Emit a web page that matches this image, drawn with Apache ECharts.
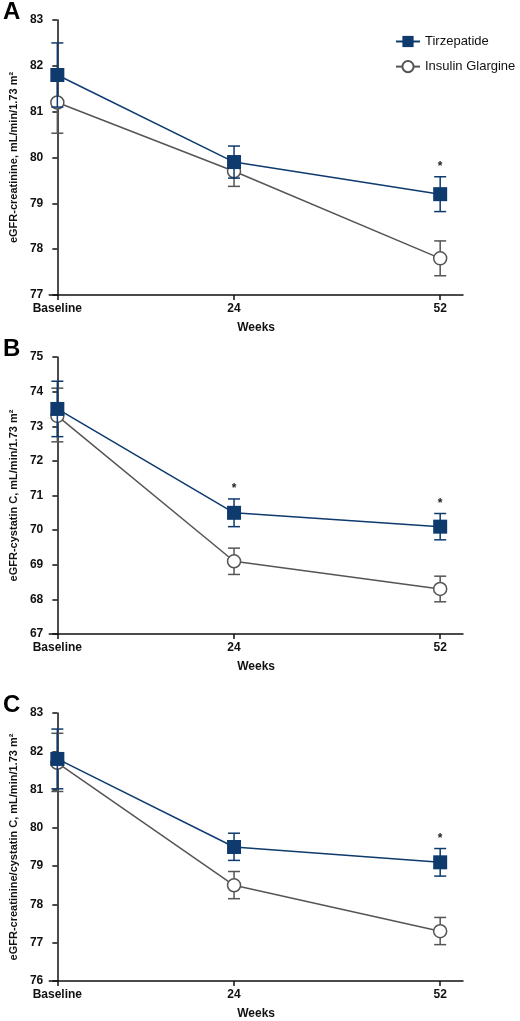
<!DOCTYPE html>
<html><head><meta charset="utf-8">
<script src="https://cdn.jsdelivr.net/npm/echarts@6/dist/echarts.min.js"></script>
<style>html,body{margin:0;padding:0;background:#fff}#c{width:520px;height:1021px}</style>
</head><body><div id="c"></div>
<script>
const weeks = [0, 24, 52];
const weekLabels = {0:'Baseline', 24:'24', 52:'52'};
// Panel A
const aTirz = [81.8, 79.9, 79.2];
const aTirzLo = [81.1, 79.55, 78.82];
const aTirzHi = [82.5, 80.25, 79.58];
const aIG = [81.2, 79.7, 77.8];
const aIGLo = [80.53, 79.37, 77.42];
const aIGHi = [81.87, 80.03, 78.18];
const aSig = [false, false, true];
// Panel B
const bTirz = [73.5, 70.5, 70.1];
const bTirzLo = [72.7, 70.1, 69.72];
const bTirzHi = [74.3, 70.9, 70.48];
const bIG = [73.3, 69.1, 68.3];
const bIGLo = [72.55, 68.72, 67.93];
const bIGHi = [74.1, 69.48, 68.67];
const bSig = [false, true, true];
// Panel C
const cTirz = [81.8, 79.5, 79.1];
const cTirzLo = [81.02, 79.15, 78.74];
const cTirzHi = [82.58, 79.86, 79.46];
const cIG = [81.7, 78.5, 77.3];
const cIGLo = [80.95, 78.15, 76.95];
const cIGHi = [82.47, 78.86, 77.66];
const cSig = [false, false, true];

const NAVY = '#0e3a6e', GRAY = '#555555';
const panels = [
  {letter:'A', top:20, h:275, min:77, max:83, title:'eGFR-creatinine, mL/min/1.73 m²', t:aTirz, tl:aTirzLo, th:aTirzHi, g:aIG, gl:aIGLo, gh:aIGHi, sig:aSig},
  {letter:'B', top:357, h:277, min:67, max:75, title:'eGFR-cystatin C, mL/min/1.73 m²', t:bTirz, tl:bTirzLo, th:bTirzHi, g:bIG, gl:bIGLo, gh:bIGHi, sig:bSig},
  {letter:'C', top:713, h:269, min:76, max:83, title:'eGFR-creatinine/cystatin C, mL/min/1.73 m²', t:cTirz, tl:cTirzLo, th:cTirzHi, g:cIG, gl:cIGLo, gh:cIGHi, sig:cSig}
];
const grid=[], xAxis=[], yAxis=[], series=[], graphic=[];
function errSeries(i, lo, hi, color, sig, z){
  return {type:'custom', xAxisIndex:i, yAxisIndex:i, z:z, silent:true,
    data: weeks.map((w,k)=>[w, lo[k], hi[k], sig?(sig[k]?1:0):0]),
    encode:{x:0, y:[1,2]},
    renderItem:(params, api)=>{
      const x=api.value(0);
      const p1=api.coord([x, api.value(1)]), p2=api.coord([x, api.value(2)]);
      const st={stroke:color, lineWidth:1.5};
      const ch=[
        {type:'line', shape:{x1:p1[0],y1:p1[1],x2:p2[0],y2:p2[1]}, style:st},
        {type:'line', shape:{x1:p1[0]-6,y1:p1[1],x2:p1[0]+6,y2:p1[1]}, style:st},
        {type:'line', shape:{x1:p2[0]-6,y1:p2[1],x2:p2[0]+6,y2:p2[1]}, style:st}];
      if(api.value(3)) ch.push({type:'text', style:{text:'*', x:p2[0], y:p2[1]-4, textAlign:'center', textVerticalAlign:'bottom', font:'bold 12px Arial', fill:'#222'}});
      return {type:'group', children:ch};
    }};
}
panels.forEach((p,i)=>{
  grid.push({left:49, width:414, top:p.top, height:p.h});
  xAxis.push({type:'value', gridIndex:i, min:-1.1, max:55.1,
    axisLine:{lineStyle:{color:'#111', width:1.5}},
    axisTick:{customValues:weeks, length:5, lineStyle:{color:'#111', width:1.5}},
    axisLabel:{customValues:weeks, formatter:v=>weekLabels[v], color:'#111', fontWeight:'bold', fontSize:12, fontFamily:'Arial', margin:8},
    splitLine:{show:false},
    name:'Weeks', nameLocation:'middle', nameGap:27, nameTextStyle:{color:'#111', fontWeight:'bold', fontSize:12, fontFamily:'Arial'}});
  yAxis.push({type:'value', gridIndex:i, min:p.min, max:p.max, interval:1,
    axisLine:{show:true, lineStyle:{color:'#111', width:1.5}},
    axisTick:{show:true, length:5, lineStyle:{color:'#111', width:1.5}},
    axisLabel:{color:'#111', fontWeight:'bold', fontSize:12, fontFamily:'Arial', margin:6},
    splitLine:{show:false},
    name:p.title, nameLocation:'middle', nameGap:30, nameTextStyle:{color:'#111', fontWeight:'bold', fontSize:11, fontFamily:'Arial'}});
  series.push(errSeries(i, p.gl, p.gh, GRAY, null, 2));
  series.push(errSeries(i, p.tl, p.th, NAVY, p.sig, 4));
  series.push({name:'Insulin Glargine', type:'line', xAxisIndex:i, yAxisIndex:i, z:3,
    data:weeks.map((w,k)=>[w,p.g[k]]), symbol:'circle', symbolSize:13,
    lineStyle:{color:GRAY, width:1.5}, itemStyle:{color:'#fff', borderColor:GRAY, borderWidth:1.5}});
  series.push({name:'Tirzepatide', type:'line', xAxisIndex:i, yAxisIndex:i, z:5,
    data:weeks.map((w,k)=>[w,p.t[k]]), symbol:'rect', symbolSize:14,
    lineStyle:{color:NAVY, width:1.5}, itemStyle:{color:NAVY}});
  graphic.push({type:'text', left:3, top:p.top-20+(i==0?0:0), style:{text:p.letter, font:'bold 24px Arial', fill:'#000'}});
});
const chart=echarts.init(document.getElementById('c'));
chart.setOption({animation:false, grid, xAxis, yAxis, series, graphic,
  legend:{data:['Tirzepatide','Insulin Glargine'], orient:'vertical', left:390, top:30, itemWidth:24, itemHeight:14, itemGap:12,
    textStyle:{fontSize:13, color:'#111', fontFamily:'Arial'}}});
</script></body></html>
